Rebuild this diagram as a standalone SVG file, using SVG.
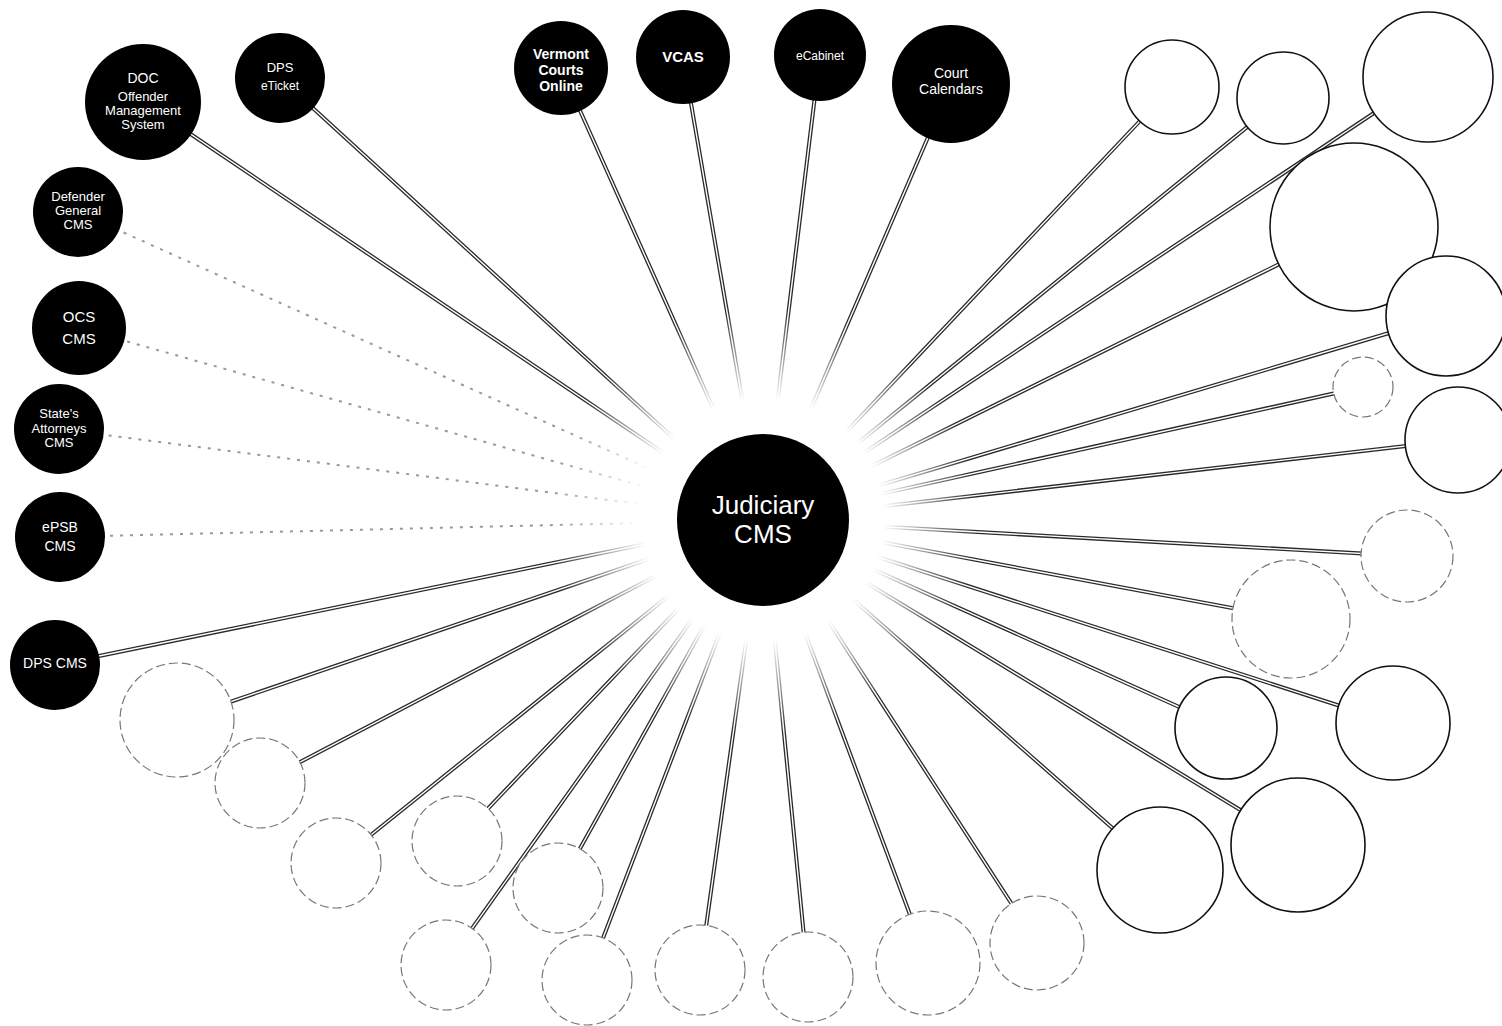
<svg xmlns="http://www.w3.org/2000/svg" width="1502" height="1026" viewBox="0 0 1502 1026">
<style>
.bg{fill:#fff}
.dark{fill:#000}
.open{fill:#fff;stroke:#111;stroke-width:1.6}
.openf{fill:#fff;stroke:#777;stroke-width:1.2;stroke-dasharray:9 4}
.t{font-family:"Liberation Sans",Arial,sans-serif;fill:#fff;text-anchor:middle}
.b{font-weight:bold}
.lo{stroke:#2a2a2a;stroke-width:4;fill:none}
.li{stroke:#fff;stroke-width:1.4;fill:none}
.fo{stroke:#999;stroke-width:2;stroke-dasharray:3 7;fill:none}
</style>
<defs>
<radialGradient id="fade" gradientUnits="userSpaceOnUse" cx="763" cy="520" r="250">
<stop offset="0.48" stop-color="#000"/>
<stop offset="0.86" stop-color="#fff"/>
</radialGradient>
<mask id="hubmask" maskUnits="userSpaceOnUse" x="0" y="0" width="1502" height="1026">
<rect x="0" y="0" width="1502" height="1026" fill="url(#fade)"/>
</mask>
</defs>
<rect class="bg" x="0" y="0" width="1502" height="1026"/>
<g id="connectors" mask="url(#hubmask)">
<g id="strong">
<path class="lo" d="M143 102L763 520M280 78L763 520M55 665L763 520M561 68L763 520M683 57L763 520M820 55L763 520M951 84L763 520M1172 87L763 520M1283 98L763 520M1428 77L763 520M1354 227L763 520M1446 316L763 520M1363 387L763 520M1458 440L763 520M1407 556L763 520M1291 619L763 520M1226 728L763 520M1393 723L763 520M1298 845L763 520M1160 870L763 520M1037 943L763 520M928 963L763 520M808 977L763 520M700 970L763 520M587 980L763 520M446 965L763 520M558 888L763 520M457 841L763 520M336 863L763 520M260 783L763 520M177 720L763 520"/>
<path class="li" d="M143 102L763 520M280 78L763 520M55 665L763 520M561 68L763 520M683 57L763 520M820 55L763 520M951 84L763 520M1172 87L763 520M1283 98L763 520M1428 77L763 520M1354 227L763 520M1446 316L763 520M1363 387L763 520M1458 440L763 520M1407 556L763 520M1291 619L763 520M1226 728L763 520M1393 723L763 520M1298 845L763 520M1160 870L763 520M1037 943L763 520M928 963L763 520M808 977L763 520M700 970L763 520M587 980L763 520M446 965L763 520M558 888L763 520M457 841L763 520M336 863L763 520M260 783L763 520M177 720L763 520"/>
</g>
<path class="fo" d="M78 212L763 520M79 328L763 520M59 429L763 520M60 537L763 520"/>
</g>
<g id="hub"><circle class="dark" cx="763" cy="520" r="86"/><text class="t" x="763" y="514" font-size="26">Judiciary</text><text class="t" x="763" y="543" font-size="26">CMS</text></g>
<g id="doc"><circle class="dark" cx="143" cy="102" r="58"/><text class="t" x="143" y="83" font-size="14">DOC</text><text class="t" x="143" y="101" font-size="13">Offender</text><text class="t" x="143" y="115" font-size="13">Management</text><text class="t" x="143" y="129" font-size="13">System</text></g>
<g id="dps-eticket"><circle class="dark" cx="280" cy="78" r="45"/><text class="t" x="280" y="72" font-size="13">DPS</text><text class="t" x="280" y="90" font-size="12">eTicket</text></g>
<g id="defender"><circle class="dark" cx="78" cy="212" r="45"/><text class="t" x="78" y="201" font-size="13">Defender</text><text class="t" x="78" y="215" font-size="13">General</text><text class="t" x="78" y="229" font-size="13">CMS</text></g>
<g id="ocs"><circle class="dark" cx="79" cy="328" r="47"/><text class="t" x="79" y="322" font-size="15">OCS</text><text class="t" x="79" y="344" font-size="15">CMS</text></g>
<g id="states"><circle class="dark" cx="59" cy="429" r="45"/><text class="t" x="59" y="418" font-size="13">State's</text><text class="t" x="59" y="433" font-size="13">Attorneys</text><text class="t" x="59" y="447" font-size="13">CMS</text></g>
<g id="epsb"><circle class="dark" cx="60" cy="537" r="45"/><text class="t" x="60" y="532" font-size="14">ePSB</text><text class="t" x="60" y="551" font-size="14">CMS</text></g>
<g id="dps-cms"><circle class="dark" cx="55" cy="665" r="45"/><text class="t" x="55" y="668" font-size="14">DPS CMS</text></g>
<g id="vco"><circle class="dark" cx="561" cy="68" r="47"/><text class="t b" x="561" y="59" font-size="14">Vermont</text><text class="t b" x="561" y="75" font-size="14">Courts</text><text class="t b" x="561" y="91" font-size="14">Online</text></g>
<g id="vcas"><circle class="dark" cx="683" cy="57" r="47"/><text class="t b" x="683" y="62" font-size="15">VCAS</text></g>
<g id="ecabinet"><circle class="dark" cx="820" cy="55" r="46"/><text class="t" x="820" y="60" font-size="12">eCabinet</text></g>
<g id="court"><circle class="dark" cx="951" cy="84" r="59"/><text class="t" x="951" y="78" font-size="14">Court</text><text class="t" x="951" y="94" font-size="14">Calendars</text></g>
<g id="r1"><circle class="open" cx="1172" cy="87" r="47"/></g>
<g id="r2"><circle class="open" cx="1283" cy="98" r="46"/></g>
<g id="r3"><circle class="open" cx="1428" cy="77" r="65"/></g>
<g id="r4"><circle class="open" cx="1354" cy="227" r="84"/></g>
<g id="r5"><circle class="open" cx="1446" cy="316" r="60" stroke-width="1.8"/></g>
<g id="r6"><circle class="openf" cx="1363" cy="387" r="30"/></g>
<g id="r7"><circle class="open" cx="1458" cy="440" r="53"/></g>
<g id="r8"><circle class="openf" cx="1407" cy="556" r="46"/></g>
<g id="r9"><circle class="openf" cx="1291" cy="619" r="59"/></g>
<g id="r10"><circle class="open" cx="1226" cy="728" r="51"/></g>
<g id="r11"><circle class="open" cx="1393" cy="723" r="57"/></g>
<g id="r12"><circle class="open" cx="1298" cy="845" r="67" stroke="#444"/></g>
<g id="r13"><circle class="open" cx="1160" cy="870" r="63"/></g>
<g id="b1"><circle class="openf" cx="1037" cy="943" r="47"/></g>
<g id="b2"><circle class="openf" cx="928" cy="963" r="52"/></g>
<g id="b3"><circle class="openf" cx="808" cy="977" r="45"/></g>
<g id="b4"><circle class="openf" cx="700" cy="970" r="45"/></g>
<g id="b5"><circle class="openf" cx="587" cy="980" r="45"/></g>
<g id="b6"><circle class="openf" cx="446" cy="965" r="45"/></g>
<g id="b7"><circle class="openf" cx="558" cy="888" r="45"/></g>
<g id="b8"><circle class="openf" cx="457" cy="841" r="45"/></g>
<g id="b9"><circle class="openf" cx="336" cy="863" r="45"/></g>
<g id="b10"><circle class="openf" cx="260" cy="783" r="45"/></g>
<g id="b11"><circle class="openf" cx="177" cy="720" r="57"/></g>
</svg>
